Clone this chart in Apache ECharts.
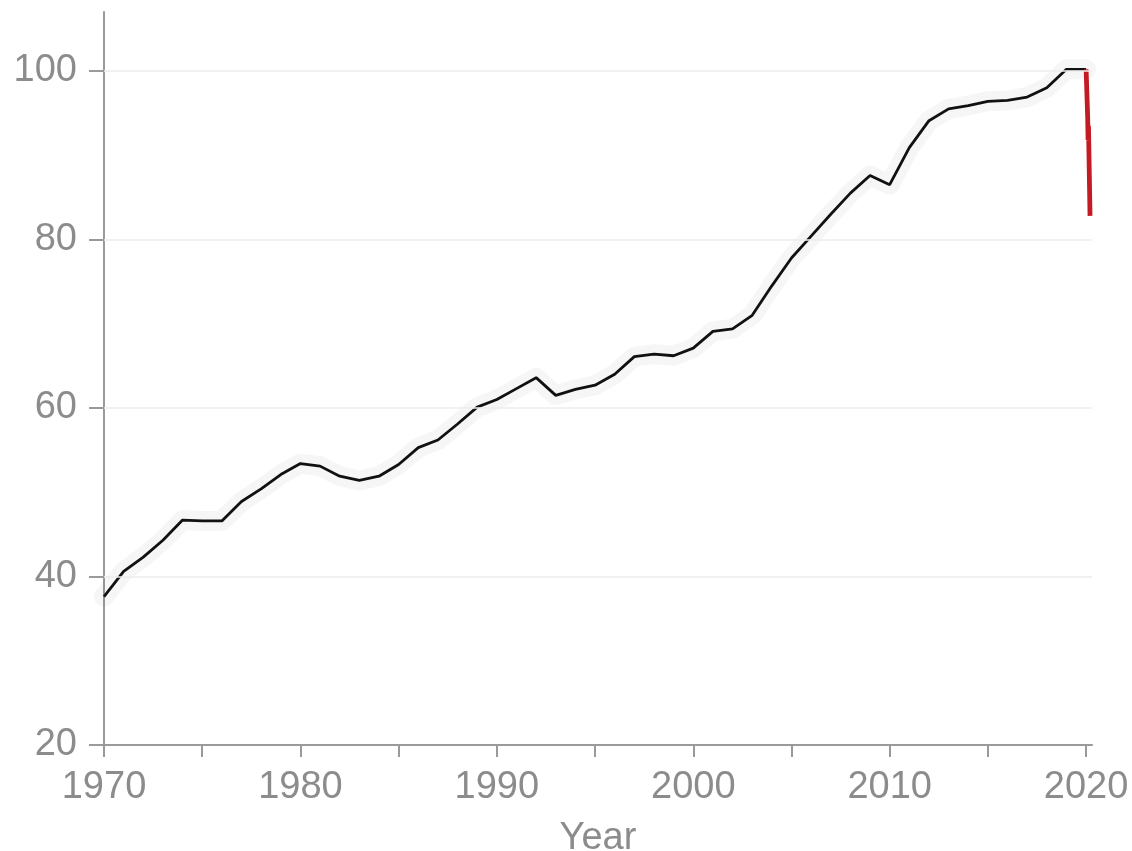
<!DOCTYPE html>
<html>
<head>
<meta charset="utf-8">
<script src="https://cdn.jsdelivr.net/npm/echarts@6/dist/echarts.min.js"></script>
<style>
html,body{margin:0;padding:0;background:#fff;}
#chart{width:1132px;height:851px;}
</style>
</head>
<body>
<div id="chart"></div>
<script>
var years = [1970,1971,1972,1973,1974,1975,1976,1977,1978,1979,
             1980,1981,1982,1983,1984,1985,1986,1987,1988,1989,
             1990,1991,1992,1993,1994,1995,1996,1997,1998,1999,
             2000,2001,2002,2003,2004,2005,2006,2007,2008,2009,
             2010,2011,2012,2013,2014,2015,2016,2017,2018,2019,2020];
var annualValues = [37.6,40.6,42.3,44.3,46.7,46.6,46.6,48.9,50.4,52.1,
                    53.4,53.1,51.9,51.4,51.9,53.3,55.3,56.2,58.1,60.1,
                    61.0,62.3,63.6,61.5,62.2,62.7,64.0,66.1,66.4,66.2,
                    67.1,69.1,69.4,71.0,74.5,77.8,80.4,83.0,85.5,87.6,
                    86.5,90.9,94.1,95.5,95.9,96.4,96.5,96.9,98.0,100.2,100.2];
var recentTimes = [2020.0, 2020.08, 2020.1, 2020.12, 2020.2];
var recentValues = [100.2, 94.5, 91.8, 93.5, 82.8];
var xLabelValues = [1970,1980,1990,2000,2010,2020];
var xTickValues = [1970,1975,1980,1985,1990,1995,2000,2005,2010,2015,2020];
var yTickValues = [20,40,60,80,100];

var annualData = years.map(function(y,i){return [y, annualValues[i]];});
var recentData = recentTimes.map(function(t,i){return [t, recentValues[i]];});

var chart = echarts.init(document.getElementById('chart'));
var axisGray = '#9a9a9a';
var labelGray = '#8c8c8c';
chart.setOption({
  animation:false,
  backgroundColor:'#ffffff',
  grid:{left:104, right:40, top:12, bottom:106, containLabel:false, outerBoundsMode:'none'},
  xAxis:{
    type:'value', min:1970, max:2020.3,
    name:'Year', nameLocation:'middle', nameGap:75,
    nameTextStyle:{fontFamily:'Liberation Sans', fontSize:38, color:labelGray},
    axisLine:{show:true, onZero:false, lineStyle:{color:axisGray, width:2}},
    axisTick:{show:true, length:12, customValues:xTickValues, lineStyle:{color:axisGray, width:2}},
    axisLabel:{customValues:xLabelValues, formatter:function(v){return String(v);}, fontFamily:'Liberation Sans', fontSize:38, color:labelGray, margin:24},
    splitLine:{show:false}
  },
  yAxis:{
    type:'value', min:20, max:107,
    axisLine:{show:true, onZero:false, lineStyle:{color:axisGray, width:2}},
    axisTick:{show:true, length:15, customValues:yTickValues, lineStyle:{color:axisGray, width:2}},
    axisLabel:{customValues:yTickValues, formatter:function(v){return String(v);}, fontFamily:'Liberation Sans', fontSize:38, color:labelGray, margin:27},
    splitLine:{show:false}
  },
  series:[
    {
      type:'line', data:annualData, symbol:'none', z:2, silent:true,
      lineStyle:{color:'rgba(0,0,0,0.035)', width:20, cap:'round', join:'round'},
      markLine:{
        silent:true, symbol:'none', label:{show:false},
        lineStyle:{color:'#ececec', width:1.5, type:'solid'},
        data:[{yAxis:40},{yAxis:60},{yAxis:80},{yAxis:100}]
      }
    },
    {
      type:'line', data:annualData, symbol:'none', z:3,
      lineStyle:{color:'#111111', width:2.8}
    },
    {
      type:'line', data:recentData, symbol:'none', z:4,
      lineStyle:{color:'#c41a24', width:4.8}
    }
  ]
});
</script>
</body>
</html>
